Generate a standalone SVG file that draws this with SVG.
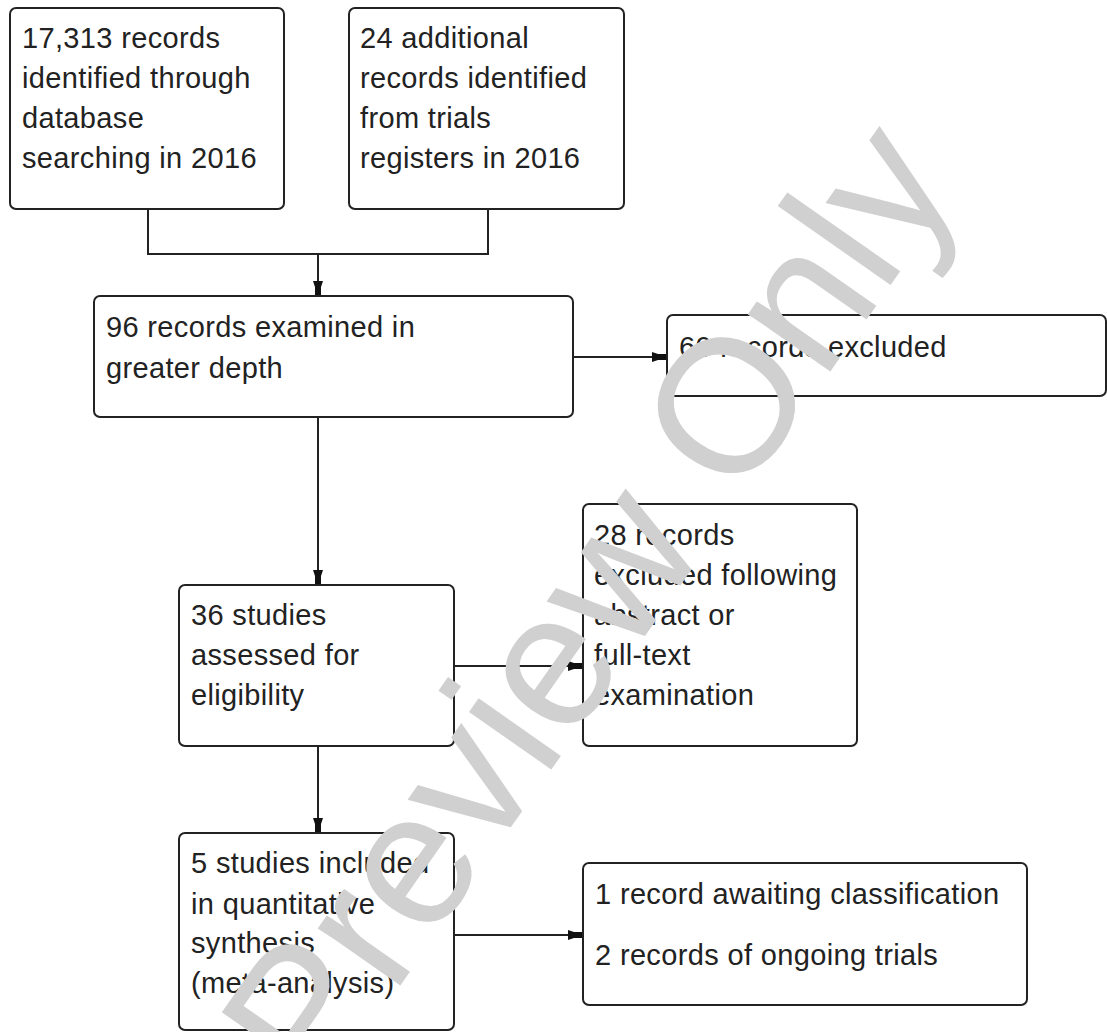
<svg xmlns="http://www.w3.org/2000/svg" width="1107" height="1032" viewBox="0 0 1107 1032">
<style>
.box{fill:#fff;stroke:#222;stroke-width:2}
.t{font-family:"Liberation Sans",Arial,sans-serif;font-size:29px;fill:#222;letter-spacing:0.35px}
.c{fill:none;stroke:#222;stroke-width:2}
.wm{font-family:"Liberation Sans",Arial,sans-serif;font-size:190px;fill:#d0d0d0}
</style>
<defs>
<marker id="ah" markerUnits="userSpaceOnUse" markerWidth="20" markerHeight="12" viewBox="-16 -6 20 12" refX="0" refY="0" orient="auto">
<path d="M-15,-5 L-9,-3 L0,-3 L0,3 L-9,3 L-15,5 Z" fill="#111"/>
</marker>
</defs>
<rect width="1107" height="1032" fill="#fff"/>
<g id="connectors">
<path class="c" d="M148,209 V254 H488 V209"/>
<path class="c" d="M318,254 V296" marker-end="url(#ah)"/>
<path class="c" d="M573,357 H667" marker-end="url(#ah)"/>
<path class="c" d="M318,417 V585" marker-end="url(#ah)"/>
<path class="c" d="M454,666 H583" marker-end="url(#ah)"/>
<path class="c" d="M318,746 V833" marker-end="url(#ah)"/>
<path class="c" d="M454,935 H583" marker-end="url(#ah)"/>
</g>
<g id="n1">
<rect class="box" x="10" y="8" width="274" height="201" rx="6"/>
<text class="t" x="22" y="48">17,313 records</text>
<text class="t" x="22" y="88">identified through</text>
<text class="t" x="22" y="128">database</text>
<text class="t" x="22" y="168">searching in 2016</text>
</g>
<g id="n2">
<rect class="box" x="349" y="8" width="275" height="201" rx="6"/>
<text class="t" x="360" y="48">24 additional</text>
<text class="t" x="360" y="88">records identified</text>
<text class="t" x="360" y="128">from trials</text>
<text class="t" x="360" y="168">registers in 2016</text>
</g>
<g id="n3">
<rect class="box" x="94" y="296" width="479" height="121" rx="6"/>
<text class="t" x="106" y="337">96 records examined in</text>
<text class="t" x="106" y="378">greater depth</text>
</g>
<g id="n4">
<rect class="box" x="667" y="315" width="439" height="81" rx="6"/>
<text class="t" x="679" y="357">60 records excluded</text>
</g>
<g id="n5">
<rect class="box" x="179" y="585" width="275" height="161" rx="6"/>
<text class="t" x="191" y="625">36 studies</text>
<text class="t" x="191" y="665">assessed for</text>
<text class="t" x="191" y="705">eligibility</text>
</g>
<g id="n6">
<rect class="box" x="583" y="504" width="274" height="242" rx="6"/>
<text class="t" x="594" y="545">28 records</text>
<text class="t" x="594" y="585">excluded following</text>
<text class="t" x="594" y="625">abstract or</text>
<text class="t" x="594" y="665">full-text</text>
<text class="t" x="594" y="705">examination</text>
</g>
<g id="n7">
<rect class="box" x="179" y="833" width="275" height="197" rx="6"/>
<text class="t" x="191" y="873">5 studies included</text>
<text class="t" x="191" y="914">in quantitative</text>
<text class="t" x="191" y="953">synthesis</text>
<text class="t" x="191" y="993">(meta-analysis)</text>
</g>
<g id="n8">
<rect class="box" x="583" y="863" width="444" height="142" rx="6"/>
<text class="t" x="595" y="904">1 record awaiting classification</text>
<text class="t" x="595" y="965">2 records of ongoing trials</text>
</g>
<text class="wm" transform="translate(320,1100) rotate(-55)">Preview Only</text>
</svg>
